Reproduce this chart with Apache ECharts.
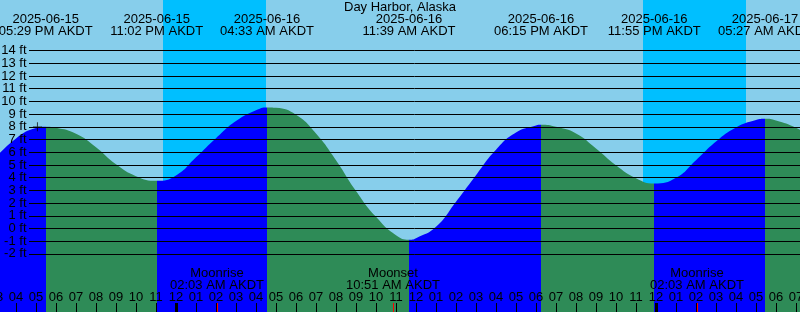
<!DOCTYPE html>
<html><head><meta charset="utf-8">
<script src="https://cdn.jsdelivr.net/npm/echarts@6/dist/echarts.min.js"></script>
<style>html,body{margin:0;padding:0;background:#87CEEB}#c{width:800px;height:312px}</style>
</head><body><div id="c"></div>
<script>
// ---------- data (hours are counted from 2025-06-15 00:00 AKDT) ----------
const stationName = 'Day Harbor, Alaska';

const tideHours = [15, 16, 17, 17.483, 18, 19, 20, 21, 22, 23.033, 24, 25, 26, 27, 28, 28.55,
  29, 30, 31, 32, 33, 34, 35, 35.65, 36, 37, 38, 39, 40, 41, 42, 42.25, 43, 44, 45, 46, 47,
  47.917, 49, 50, 51, 52, 53, 53.45, 54, 55, 56];
const tideFeet = [5.6, 7.09, 7.9, 8.0, 7.92, 7.45, 6.4, 5.05, 4.12, 3.75, 4.17, 5.6, 7.1, 8.45, 9.31, 9.53,
  9.5, 8.95, 7.48, 5.38, 2.96, 0.92, -0.53, -0.88, -0.76, 0.13, 2.1, 4.2, 6.2, 7.55, 8.1, 8.16, 8.0, 7.48, 6.3, 4.98, 3.96,
  3.54, 3.99, 5.38, 6.85, 7.95, 8.53, 8.63, 8.5, 7.92, 7.0];

const extremaDates = ['2025-06-15', '2025-06-15', '2025-06-16', '2025-06-16', '2025-06-16', '2025-06-16', '2025-06-17'];
const extremaTimes = ['05:29 PM AKDT', '11:02 PM AKDT', '04:33 AM AKDT', '11:39 AM AKDT', '06:15 PM AKDT', '11:55 PM AKDT', '05:27 AM AKDT'];
const extremaKind  = ['high', 'low', 'high', 'low', 'high', 'low', 'high'];

const nightStartDates = ['2025-06-15', '2025-06-16'];
const nightStartTimes = ['11:21 PM AKDT', '11:21 PM AKDT'];
const nightEndDates   = ['2025-06-16', '2025-06-17'];
const nightEndTimes   = ['04:30 AM AKDT', '04:30 AM AKDT'];

const moonEvents = ['Moonrise', 'Moonset', 'Moonrise'];
const moonDates  = ['2025-06-16', '2025-06-16', '2025-06-17'];
const moonTimes  = ['02:03 AM AKDT', '10:51 AM AKDT', '02:03 AM AKDT'];

const midnightHours = [24, 48];
const nowMark = [17.07, 8.0];

const depthTicks = [-2, -1, 0, 1, 2, 3, 4, 5, 6, 7, 8, 9, 10, 11, 12, 13, 14];
const hourMin = 15, hourMax = 56;

// ---------- helpers ----------
function toHours(date, time) {
  const day = parseInt(date.slice(8), 10) - 15;
  const m = time.match(/(\d+):(\d+)\s*(AM|PM)/);
  let h = parseInt(m[1], 10) % 12;
  if (m[3] === 'PM') h += 12;
  return day * 24 + h + parseInt(m[2], 10) / 60;
}
const extremaHours = extremaDates.map((d, i) => toHours(d, extremaTimes[i]));
const moonHours = moonDates.map((d, i) => toHours(d, moonTimes[i]));
const nights = nightStartDates.map((d, i) => [toHours(d, nightStartTimes[i]), toHours(nightEndDates[i], nightEndTimes[i])]);
const depthMin = depthTicks[0], depthMax = depthTicks[depthTicks.length - 1];

const RISING = '#0000FF', FALLING = '#2E8B57';
const bounds = [hourMin].concat(extremaHours, [hourMax + 1]);
const pieces = [];
for (let i = 0; i < bounds.length - 1; i++) {
  let rising;
  if (i < extremaKind.length) rising = extremaKind[i] === 'high';
  else rising = extremaKind[extremaKind.length - 1] !== 'high';
  pieces.push({ gte: bounds[i], lt: bounds[i + 1], color: rising ? RISING : FALLING });
}

const FONT = 'Liberation Sans';
const H = 312;
const yTop = 17.98, yBottom = -6.57;            // value range of the main axis
const pxPerFt = H / (yTop - yBottom);

function hourLabel(v) {
  const h = ((Math.round(v) % 24) + 24) % 24;
  const h12 = h % 12 === 0 ? 12 : h % 12;
  return (h12 < 10 ? '0' : '') + h12;
}
function findIdx(arr, v) {
  for (let i = 0; i < arr.length; i++) if (Math.abs(arr[i] - v) < 1e-6) return i;
  return -1;
}

const chart = echarts.init(document.getElementById('c'), null, { renderer: 'canvas' });
const txt = { color: '#000', fontFamily: FONT, fontSize: 13 };
const noLine = { show: false, onZero: false };

chart.setOption({
  backgroundColor: '#87CEEB',
  animation: false,
  title: {
    text: stationName, left: 'center', top: 1, padding: 0,
    textStyle: Object.assign({ fontWeight: 'normal' }, txt)
  },
  grid: [
    { left: -4, right: -16, top: 0, bottom: 0, outerBoundsMode: 'none', containLabel: false },
    { left: 29, right: 0, top: (yTop - depthMax) * pxPerFt, height: (depthMax - depthMin) * pxPerFt,
      outerBoundsMode: 'none', containLabel: false }
  ],
  visualMap: { type: 'piecewise', show: false, dimension: 0, seriesIndex: 0, pieces: pieces },
  xAxis: [
    { gridIndex: 0, type: 'value', min: hourMin, max: hourMax, interval: 1, position: 'bottom', z: 10,
      axisLine: noLine, splitLine: { show: false },
      axisTick: { inside: true, length: 9, lineStyle: { color: '#000', width: 1 } },
      axisLabel: Object.assign({ inside: true, margin: 15, verticalAlign: 'middle', interval: 0, hideOverlap: false,
        showMinLabel: true, showMaxLabel: true, formatter: hourLabel }, txt) },
    { gridIndex: 0, type: 'value', min: hourMin, max: hourMax, position: 'bottom', z: 11,
      axisLine: noLine, splitLine: { show: false }, axisLabel: { show: false },
      axisTick: { inside: true, length: 9, customValues: midnightHours, lineStyle: { color: '#000', width: 3 } } },
    { gridIndex: 0, type: 'value', min: hourMin, max: hourMax, position: 'bottom', z: 11,
      axisLine: noLine, splitLine: { show: false },
      axisTick: { inside: true, length: 9, customValues: moonHours, lineStyle: { color: '#FF0000', width: 1 } },
      axisLabel: Object.assign({ inside: true, margin: 32.6, verticalAlign: 'middle', align: 'center', lineHeight: 12,
        hideOverlap: false, customValues: moonHours,
        formatter: function (v) { const i = findIdx(moonHours, v); return i < 0 ? '' : moonEvents[i] + '\n' + moonTimes[i]; } }, txt) },
    { gridIndex: 0, type: 'value', min: hourMin, max: hourMax, position: 'top', z: 11,
      axisLine: noLine, splitLine: { show: false }, axisTick: { show: false },
      axisLabel: Object.assign({ inside: true, margin: 25.3, verticalAlign: 'middle', align: 'center', lineHeight: 12,
        hideOverlap: false, customValues: extremaHours,
        formatter: function (v) { const i = findIdx(extremaHours, v); return i < 0 ? '' : extremaDates[i] + '\n' + extremaTimes[i]; } }, txt) },
    { gridIndex: 1, type: 'value', show: false, min: 0, max: 1, axisLine: noLine }
  ],
  yAxis: [
    { gridIndex: 0, type: 'value', min: yBottom, max: yTop, show: false, axisLine: noLine },
    { gridIndex: 1, type: 'value', min: depthMin, max: depthMax, interval: 1, z: 10,
      axisLine: noLine, axisTick: { show: false }, axisLabel: { show: false },
      splitLine: { show: true, lineStyle: { color: '#000', width: 1 } } }
  ],
  series: [
    { type: 'line', xAxisIndex: 0, yAxisIndex: 0, z: 2,
      data: tideHours.map((h, i) => [h, tideFeet[i]]),
      smooth: 0.5, showSymbol: false, silent: true,
      lineStyle: { width: 0 },
      areaStyle: { opacity: 1, origin: 'start' },
      markArea: { silent: true, itemStyle: { color: '#00BFFF', opacity: 1 },
        data: nights.map(n => [{ xAxis: n[0] }, { xAxis: n[1] }]) } },
    { type: 'scatter', xAxisIndex: 0, yAxisIndex: 0, z: 12, silent: true,
      data: [nowMark], symbol: 'path://M0,4.5h10v1h-10zM4.5,0h1v10h-1z', symbolSize: 9,
      itemStyle: { color: '#000' } },
    { type: 'scatter', xAxisIndex: 4, yAxisIndex: 1, z: 12, silent: true, clip: false,
      data: depthTicks.map(v => [0, v]), symbol: 'circle', symbolSize: 1,
      itemStyle: { color: 'rgba(0,0,0,0)', opacity: 1 },
      label: Object.assign({ show: true, position: 'left', distance: 2, opacity: 1,
        formatter: function (p) { return p.value[1] + ' ft'; } }, txt),
      labelLayout: { hideOverlap: false } }
  ]
});
</script>
</body></html>
